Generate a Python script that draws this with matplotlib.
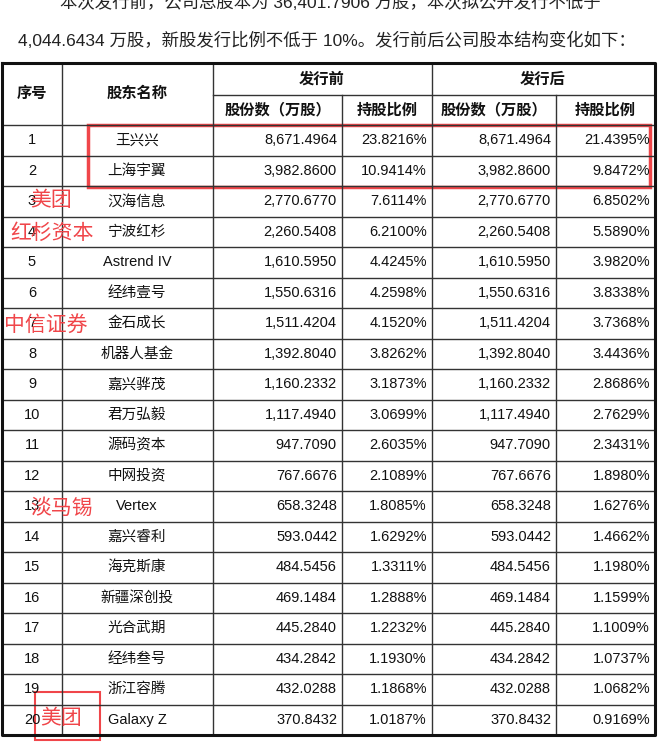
import matplotlib
matplotlib.use("Agg")
import matplotlib.pyplot as plt

FONT = ["Liberation Sans", "Noto Sans CJK SC"]

seq = [str(i) for i in range(1, 21)]
names = ["王兴兴", "上海宇翼", "汉海信息", "宁波红杉", "Astrend IV", "经纬壹号", "金石成长",
         "机器人基金", "嘉兴骅茂", "君万弘毅", "源码资本", "中网投资", "Vertex", "嘉兴睿利",
         "海克斯康", "新疆深创投", "光合武期", "经纬叁号", "浙江容腾", "Galaxy Z"]
shares_before = ["8,671.4964", "3,982.8600", "2,770.6770", "2,260.5408", "1,610.5950",
                 "1,550.6316", "1,511.4204", "1,392.8040", "1,160.2332", "1,117.4940",
                 "947.7090", "767.6676", "658.3248", "593.0442", "484.5456", "469.1484",
                 "445.2840", "434.2842", "432.0288", "370.8432"]
pct_before = ["23.8216%", "10.9414%", "7.6114%", "6.2100%", "4.4245%", "4.2598%", "4.1520%",
              "3.8262%", "3.1873%", "3.0699%", "2.6035%", "2.1089%", "1.8085%", "1.6292%",
              "1.3311%", "1.2888%", "1.2232%", "1.1930%", "1.1868%", "1.0187%"]
shares_after = shares_before
pct_after = ["21.4395%", "9.8472%", "6.8502%", "5.5890%", "3.9820%", "3.8338%", "3.7368%",
             "3.4436%", "2.8686%", "2.7629%", "2.3431%", "1.8980%", "1.6276%", "1.4662%",
             "1.1980%", "1.1599%", "1.1009%", "1.0737%", "1.0682%", "0.9169%"]
annotations = [("美团", 30, 200), ("红杉资本", 10, 233), ("中信证券", 4, 325),
               ("淡马锡", 30, 508), ("美团", 40, 718)]

fig = plt.figure(figsize=(6.6, 7.44), dpi=100)
ax = fig.add_axes([0, 0, 1, 1])
ax.set_xlim(0, 660)
ax.set_ylim(744, 0)
ax.axis("off")

# intro text
ax.text(330, 2, "本次发行前，公司总股本为 36,401.7906 万股，本次拟公开发行不低于",
        ha="center", va="center", fontsize=12.5, family=FONT, color="#222")
ax.text(18, 40, "4,044.6434 万股，新股发行比例不低于 10%。发行前后公司股本结构变化如下：",
        ha="left", va="center", fontsize=12.5, family=FONT, color="#222")

cols = [2, 62, 213, 342, 432, 556, 655]
top, h1, h2 = 63, 95, 125
rh = 30.5
bottom = h2 + rh * len(seq)
lc = "#333"

# grid
for x in cols[1:-1]:
    y0 = top if x in (62, 213, 432) else h1
    ax.plot([x, x], [y0, bottom], color=lc, lw=1.0)
ax.plot([213, 655], [h1, h1], color=lc, lw=1.0)
for i in range(len(seq)):
    y = h2 + rh * i
    ax.plot([2, 655], [y, y], color=lc, lw=1.0)
ax.plot([2, 655, 655, 2, 2], [top, top, bottom, bottom, top], color="#111", lw=2.2)

# header
hk = dict(ha="center", va="center", fontsize=11, family=FONT, fontweight="bold", color="#111")
ax.text(32, (top + h2) / 2, "序号", **hk)
ax.text(137, (top + h2) / 2, "股东名称", **hk)
ax.text(322, (top + h1) / 2, "发行前", **hk)
ax.text(543, (top + h1) / 2, "发行后", **hk)
for a, b, t in [(213, 342, "股份数（万股）"), (342, 432, "持股比例"),
                (432, 556, "股份数（万股）"), (556, 655, "持股比例")]:
    ax.text((a + b) / 2, (h1 + h2) / 2, t, **hk)

# body
bk = dict(va="center", fontsize=10.5, family=FONT, color="#111")
for i in range(len(seq)):
    yc = h2 + rh * (i + 0.5)
    ax.text(32, yc, seq[i], ha="center", **bk)
    ax.text(137, yc, names[i], ha="center", **bk)
    ax.text(337, yc, shares_before[i], ha="right", **bk)
    ax.text(427, yc, pct_before[i], ha="right", **bk)
    ax.text(551, yc, shares_after[i], ha="right", **bk)
    ax.text(650, yc, pct_after[i], ha="right", **bk)

# red annotations
red = "#f0464a"
ax.add_patch(plt.Rectangle((88, 125), 562, 62, fill=False, ec=red, lw=2.5))
for t, x, y in annotations:
    ax.text(x, y, t, ha="left", va="center", fontsize=15, family=FONT, color=red)
ax.add_patch(plt.Rectangle((35, 692), 65, 48, fill=False, ec=red, lw=1.5))

fig.savefig("out.png", dpi=100)
